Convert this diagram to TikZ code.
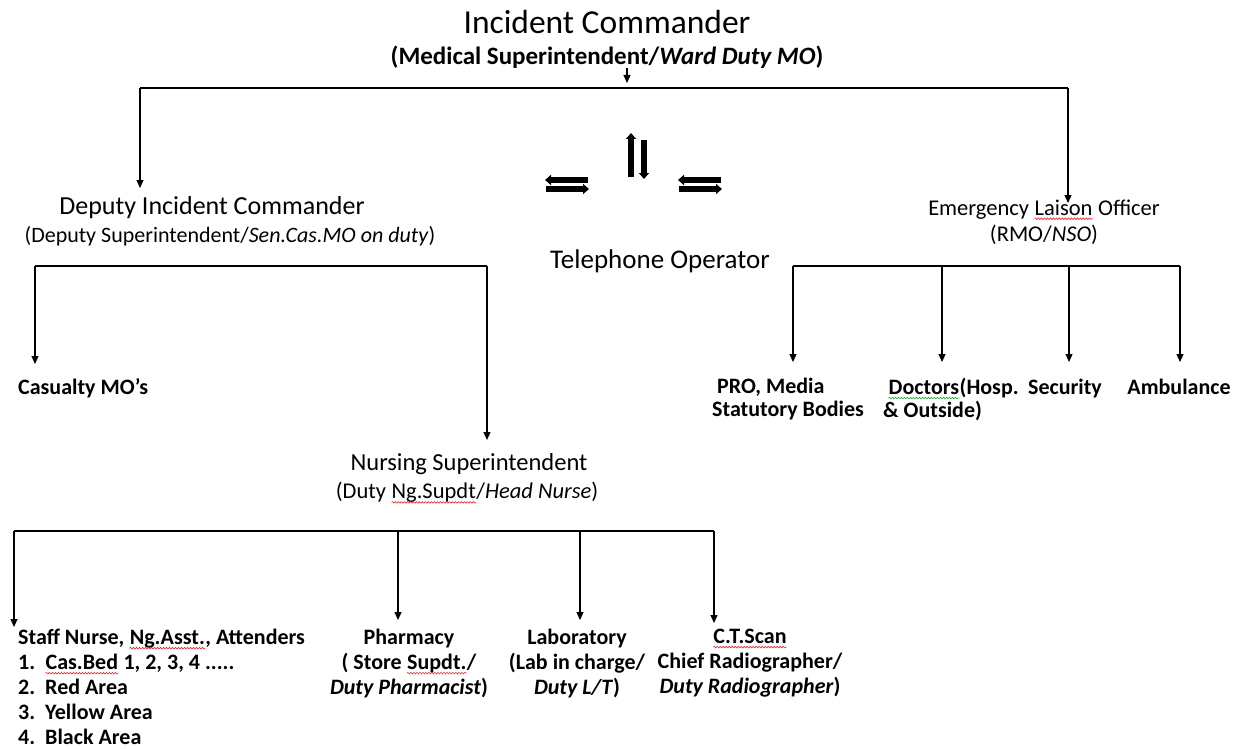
\documentclass[tikz,border=0pt]{standalone}
\usepackage{fontspec}
\setmainfont{Carlito}
\usetikzlibrary{arrows.meta,decorations.pathmorphing}
\definecolor{spellred}{RGB}{230,40,40}
\definecolor{spellgreen}{RGB}{40,170,60}
\newcommand\sw[2]{\tikz[baseline=(w.base)]{\node[inner sep=0pt] (w) {#2};
  \draw[#1,line width=0.6pt,decorate,decoration={snake,amplitude=0.8pt,segment length=3pt}]
    ([yshift=-3.5pt]w.base west) -- ([yshift=-3.5pt]w.base east);}}
\begin{document}
\begin{tikzpicture}[x=1pt,y=-1pt,
  arr/.style={-{Triangle[length=8pt,width=7pt]},line width=1.2pt},
  bar/.style={line width=1.6pt},
  dbl/.style={line width=5.5pt,-{Triangle[length=6pt,width=10pt]}},
  big/.style={inner sep=0pt,font=\fontsize{#1}{#1}\selectfont},
  lbl/.style={inner sep=0pt,font=\fontsize{22}{25}\selectfont\bfseries},
  lblt/.style={inner sep=0pt,font=\fontsize{22}{23}\selectfont\bfseries}]
\useasboundingbox (0,0) rectangle (1239,749);
\fill[white] (0,0) rectangle (1239,749);

% top
\node[big=33.5] (ic) at (607,22) {Incident Commander};
\node[inner sep=0pt,font=\fontsize{25}{26}\selectfont\bfseries] (ic2) at (607,57) {(Medical Superintendent/\textit{Ward Duty MO})};
\coordinate (tb) at (627,88);
\coordinate (tl) at (140,88);
\coordinate (tr) at (1068,88);
\draw[arr] (ic2.south -| tb) -- ([yshift=5pt]tb);
\draw[bar] (tl) -- (tr);
\coordinate (dicT) at (140,188);
\coordinate (eloT) at (1068,203);
\draw[arr] (tl) -- (dicT);
\draw[arr] (tr) -- (eloT);

% deputy
\node[big=26] (dic) at (212,208) {Deputy Incident Commander};
\node[inner sep=0pt,font=\fontsize{22}{24}\selectfont] (dic2) at (230,236) {(Deputy Superintendent/\textit{Sen.Cas.MO on duty})};

% exchange symbols
\coordinate (xa1) at (588,180); \coordinate (xa2) at (545,180);
\coordinate (xb1) at (546,189); \coordinate (xb2) at (589,189);
\draw[dbl] (xa1) -- (xa2);
\draw[dbl] (xb1) -- (xb2);
\coordinate (ya1) at (631,177); \coordinate (ya2) at (631,133);
\coordinate (yb1) at (644,140); \coordinate (yb2) at (644,179);
\draw[dbl] (ya1) -- (ya2);
\draw[dbl] (yb1) -- (yb2);
\coordinate (za1) at (721,180); \coordinate (za2) at (678,180);
\coordinate (zb1) at (679,189); \coordinate (zb2) at (722,189);
\draw[dbl] (za1) -- (za2);
\draw[dbl] (zb1) -- (zb2);

\node[big=27] (tel) at (660,261) {Telephone Operator};

% emergency liaison
\node[inner sep=0pt,font=\fontsize{22.5}{26}\selectfont,align=center] (elo) at (1044,222) {Emergency \sw{spellred}{Laison} Officer\\(RMO/\textit{NSO})};
\coordinate (r1) at (793,266);
\coordinate (r2) at (942,266);
\coordinate (r3) at (1069,266);
\coordinate (r4) at (1180,266);
\draw[bar] (r1) -- (r4);
\coordinate (r1t) at (793,362);
\coordinate (r2t) at (942,362);
\coordinate (r3t) at (1069,362);
\coordinate (r4t) at (1180,362);
\draw[arr] (r1) -- (r1t);
\draw[arr] (r2) -- (r2t);
\draw[arr] (r3) -- (r3t);
\draw[arr] (r4) -- (r4t);
\node[lblt,align=left,anchor=north west] (pro) at (712,378) {\ PRO, Media\\Statutory Bodies};
\node[lblt,align=left,anchor=north west] (doc) at (883,378) {\ \sw{spellgreen}{Doctors}(Hosp.\\\& Outside)};
\node[lbl,anchor=base] (sec) at (1065,394) {Security};
\node[lbl,anchor=base] (amb) at (1179,394) {Ambulance};

% deputy bracket
\coordinate (d1) at (35,266);
\coordinate (d2) at (487,266);
\draw[bar] (d1) -- (d2);
\coordinate (d1t) at (35,364);
\coordinate (d2t) at (487,440);
\draw[arr] (d1) -- (d1t);
\draw[arr] (d2) -- (d2t);
\node[lbl,anchor=base west] (cas) at (18,394) {Casualty MO's};

% nursing
\node[big=24.5] (ns) at (469,464) {Nursing Superintendent};
\node[inner sep=0pt,font=\fontsize{22.5}{24}\selectfont] (ns2) at (467,493) {(Duty \sw{spellred}{Ng.Supdt}/\textit{Head Nurse})};
\coordinate (n1) at (14,531);
\coordinate (n2) at (398,531);
\coordinate (n3) at (580,531);
\coordinate (n4) at (714,531);
\draw[bar] (n1) -- (n4);
\coordinate (n1t) at (14,627);
\coordinate (n2t) at (398,620);
\coordinate (n3t) at (580,620);
\coordinate (n4t) at (714,623);
\draw[arr] (n1) -- (n1t);
\draw[arr] (n2) -- (n2t);
\draw[arr] (n3) -- (n3t);
\draw[arr] (n4) -- (n4t);

\node[lbl,align=left,anchor=north west] (staff) at (18,629) {Staff Nurse, \sw{spellred}{Ng.Asst.}, Attenders\\
\makebox[27pt][l]{1.}\sw{spellred}{Cas.Bed} 1, 2, 3, 4 .....\\
\makebox[27pt][l]{2.}Red Area\\
\makebox[27pt][l]{3.}Yellow Area\\
\makebox[27pt][l]{4.}Black Area};
\node[lbl,align=center,anchor=north] (ph) at (409,629) {Pharmacy\\( Store \sw{spellred}{Supdt.}/\\\textit{Duty Pharmacist})};
\node[lbl,align=center,anchor=north] (lab) at (577,629) {Laboratory\\(Lab in charge/\\\textit{Duty L/T})};
\node[lbl,align=center,anchor=north] (ct) at (750,629) {\sw{spellred}{C.T.Scan}\\Chief Radiographer/\\\textit{Duty Radiographer})};
\end{tikzpicture}
\end{document}
